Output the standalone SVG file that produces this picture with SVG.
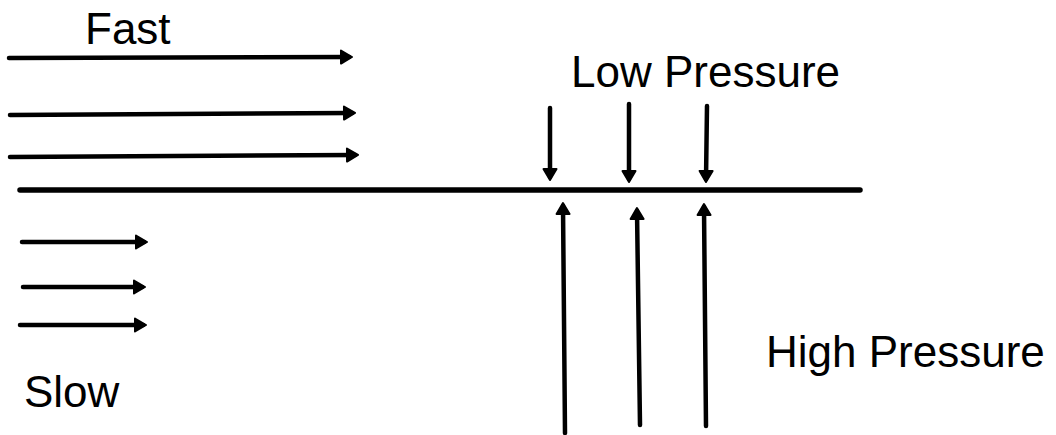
<svg xmlns="http://www.w3.org/2000/svg" width="1056" height="435" viewBox="0 0 1056 435">
<style>
.lbl{font-family:"Liberation Sans",Arial,sans-serif;font-size:44px;fill:#000}
.arr{stroke:#000;stroke-width:4.5;stroke-linecap:round;fill:none;marker-end:url(#ah)}
.wall{stroke:#000;stroke-width:5.5;stroke-linecap:round}
</style>
<defs>
<marker id="ah" markerUnits="userSpaceOnUse" markerWidth="20" markerHeight="20" refX="0" refY="0" viewBox="-10 -10 20 20" orient="auto" overflow="visible">
<path d="M-8,-6.5 L3,0 L-8,6.5 Z" fill="#000" stroke="#000" stroke-width="2" stroke-linejoin="round"/>
</marker>
</defs>
<rect width="1056" height="435" fill="#fff"/>
<g id="wall"><line class="wall" x1="20" y1="190" x2="860" y2="190"/></g>
<g id="label-fast"><text class="lbl" x="85" y="44">Fast</text></g>
<g id="label-slow"><text class="lbl" x="24" y="407">Slow</text></g>
<g id="label-low"><text class="lbl" x="571" y="87">Low Pressure</text></g>
<g id="label-high"><text class="lbl" x="766" y="367">High Pressure</text></g>
<g id="connectors">
<line class="arr" x1="9" y1="58" x2="349" y2="57"/>
<line class="arr" x1="10" y1="115" x2="352" y2="113"/>
<line class="arr" x1="10" y1="157" x2="355" y2="155"/>
<line class="arr" x1="22" y1="242" x2="144" y2="242"/>
<line class="arr" x1="23" y1="287" x2="142" y2="287"/>
<line class="arr" x1="20" y1="325" x2="143" y2="325"/>
<line class="arr" x1="550" y1="108" x2="550" y2="177"/>
<line class="arr" x1="629" y1="104" x2="629" y2="179"/>
<line class="arr" x1="707" y1="106" x2="706" y2="179"/>
<line class="arr" x1="565" y1="433" x2="563" y2="206"/>
<line class="arr" x1="640" y1="425" x2="637" y2="211"/>
<line class="arr" x1="706" y1="426" x2="704" y2="207"/>
</g>
</svg>
